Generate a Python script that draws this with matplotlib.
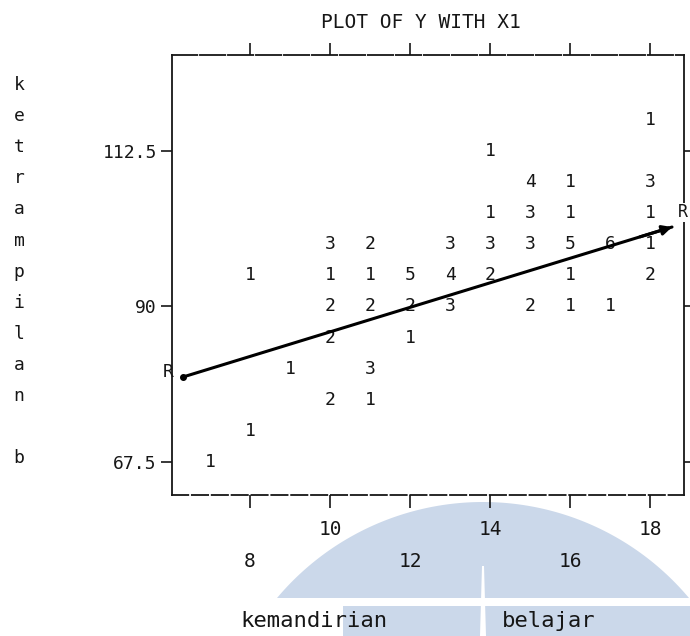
import matplotlib
matplotlib.use('Agg')
import matplotlib.pyplot as plt
import numpy as np
from matplotlib.patches import Polygon, Rectangle

# ---- data (x = kemandirian belajar, y = ketrampilan) ----
x_cols = [18,
          14,
          15, 16, 18,
          14, 15, 16, 18,
          10, 11, 13, 14, 15, 16, 17, 18,
          8, 10, 11, 12, 13, 14, 16, 18,
          10, 11, 12, 13, 15, 16, 17,
          10, 12,
          9, 11,
          10, 11,
          8,
          7]
y_rows = [117,
          112.5,
          108, 108, 108,
          103.5, 103.5, 103.5, 103.5,
          99, 99, 99, 99, 99, 99, 99, 99,
          94.5, 94.5, 94.5, 94.5, 94.5, 94.5, 94.5, 94.5,
          90, 90, 90, 90, 90, 90, 90,
          85.5, 85.5,
          81, 81,
          76.5, 76.5,
          72,
          67.5]
counts = [1,
          1,
          4, 1, 3,
          1, 3, 1, 1,
          3, 2, 3, 3, 3, 5, 6, 1,
          1, 1, 1, 5, 4, 2, 1, 2,
          2, 2, 2, 3, 2, 1, 1,
          2, 1,
          1, 3,
          2, 1,
          1,
          1]

x_ticks_upper = [10, 14, 18]
x_ticks_lower = [8, 12, 16]
y_ticks = [67.5, 90, 112.5]
y_tick_labels = ['67.5', '90', '112.5']

reg_intercept = 68.57
reg_slope = 1.775
reg_x = [6.33, 18.55]

title = 'PLOT OF Y WITH X1'
xlabel_words = ['kemandirian', 'belajar']
ylabel = 'ketrampilan b'

W, H = 690, 636
MONO = 'DejaVu Sans Mono'
INK = '#161616'

fig = plt.figure(figsize=(W / 100, H / 100), dpi=100)
fig.patch.set_facecolor('white')

def fx(px):
    return px / W

def fy(py):
    return 1 - py / H

# ---- faint watermark at the bottom of the scan ----
wm = '#cbd8ea'
cx, cy, r = 483, 771, 269
ys_cut = 598
theta = np.linspace(0, np.pi, 200)
pts = []
for t in theta:
    px = cx + r * np.cos(t)
    py = cy - r * np.sin(t)
    if py <= ys_cut:
        pts.append((fx(px), fy(py)))
half = np.sqrt(r ** 2 - (cy - ys_cut) ** 2)
pts = [(fx(cx + half), fy(ys_cut))] + pts + [(fx(cx - half), fy(ys_cut))]
fig.patches.append(Polygon(pts, closed=True, transform=fig.transFigure,
                           facecolor=wm, edgecolor='none', zorder=-5))
fig.patches.append(Rectangle((fx(343), fy(636)), fx(690) - fx(343), fy(606) - fy(636),
                             transform=fig.transFigure, facecolor=wm,
                             edgecolor='none', zorder=-5))
fig.patches.append(Polygon([(fx(482), fy(566)), (fx(484), fy(566)), (fx(486), fy(636)),
                            (fx(480), fy(636))], closed=True,
                           transform=fig.transFigure, facecolor='white',
                           edgecolor='none', zorder=-4))

# ---- axes ----
ax = fig.add_axes([fx(172), fy(495), fx(684) - fx(172), fy(55) - fy(495)])
ax.set_zorder(2)
ax.patch.set_alpha(0)
ax.set_xlim(6.05, 18.85)
ax.set_ylim(62.72, 126.39)

for s in ax.spines.values():
    s.set_color(INK)
    s.set_linewidth(1.3)
ax.spines['bottom'].set_linestyle((0, (9, 2)))
ax.spines['top'].set_linestyle((0, (14, 1.5)))

# count characters
for xv, yv, c in zip(x_cols, y_rows, counts):
    ax.text(xv, yv, str(c), ha='center', va='center', family=MONO,
            fontsize=13, color=INK, zorder=3)

# regression line
xr = np.array(reg_x)
yr = reg_intercept + reg_slope * xr
ax.plot(xr, yr, color='black', lw=2.2, solid_capstyle='round', zorder=4)
ax.annotate('', xy=(xr[1], yr[1]), xytext=(xr[1] - 0.8, yr[1] - 0.8 * reg_slope),
            arrowprops=dict(arrowstyle='-|>', lw=2.2, color='black',
                            mutation_scale=14, shrinkA=0, shrinkB=0), zorder=4)
ax.plot([xr[0]], [yr[0]], marker='o', ms=4, color='black', zorder=4)
ax.text(xr[0] - 0.38, yr[0] + 0.7, 'R', ha='center', va='center', family=MONO,
        fontsize=13, color=INK, clip_on=False)
ax.text(18.82, 103.6, 'R', ha='center', va='center', family=MONO,
        fontsize=12, color=INK, clip_on=False,
        bbox=dict(facecolor='white', edgecolor='none', pad=0.5))

# ticks
ax.set_xticks(x_ticks_upper)
ax.set_xticklabels([str(v) for v in x_ticks_upper])
ax.set_xticks(x_ticks_lower, minor=True)
ax.set_xticklabels([str(v) for v in x_ticks_lower], minor=True)
ax.tick_params(axis='x', which='both', direction='out', length=9, width=1.2,
               color=INK, top=True, bottom=True, labelcolor=INK)
ax.tick_params(axis='x', which='major', pad=9)
ax.tick_params(axis='x', which='minor', pad=32)
for lab in ax.get_xticklabels(which='both'):
    lab.set_family(MONO)
    lab.set_fontsize(14)

ax.set_yticks(y_ticks)
ax.set_yticklabels(y_tick_labels)
ax.tick_params(axis='y', which='both', direction='out', length=8, width=1.2,
               color=INK, left=True, right=True, pad=3, labelcolor=INK)
for lab in ax.get_yticklabels():
    lab.set_family(MONO)
    lab.set_fontsize(13)

# title
fig.text(fx(421), fy(22), title, ha='center', va='center', family=MONO,
         fontsize=14, color=INK)

# x label (two words, widely spaced as printed)
fig.text(fx(314), fy(621), xlabel_words[0], ha='center', va='center', family=MONO,
         fontsize=16, color=INK)
fig.text(fx(549), fy(621), xlabel_words[1], ha='center', va='center', family=MONO,
         fontsize=16, color=INK)

# y label, printed as a vertical column of letters
for i, ch in enumerate(ylabel):
    if ch.strip():
        fig.text(fx(19), fy(85 + 31.1 * i), ch, ha='center', va='center',
                 family=MONO, fontsize=13, color=INK)

fig.savefig('out.png', dpi=100)
